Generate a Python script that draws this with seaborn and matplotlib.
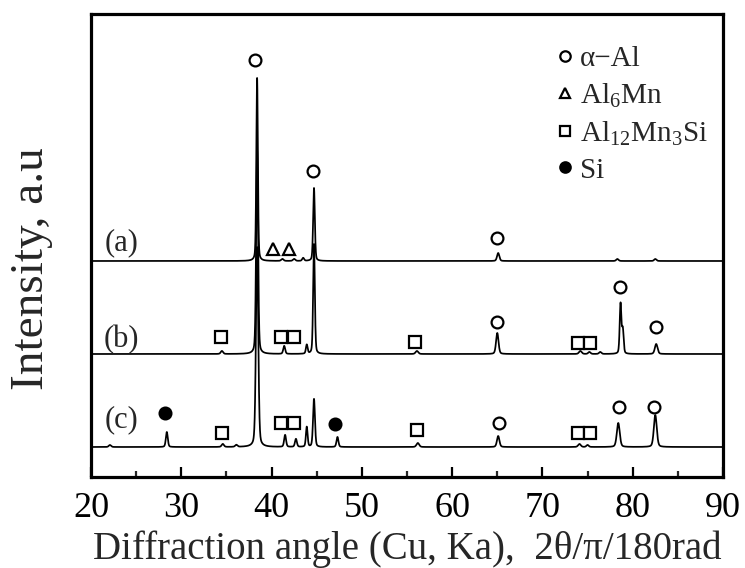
import numpy as np
import pandas as pd
import seaborn as sns
import matplotlib.pyplot as plt
from matplotlib.lines import Line2D
from matplotlib.ticker import MultipleLocator

# ---- peak lists for each XRD pattern: 2-theta (deg), intensity above baseline, FWHM (deg)
a_pos = [38.40, 41.20, 42.50, 43.50, 44.70, 65.10, 78.30, 82.50]
a_int = [183, 2, 2, 3, 73, 8, 2, 2]
a_fwhm = [0.20, 0.30, 0.30, 0.25, 0.22, 0.30, 0.30, 0.30]

b_pos = [34.50, 38.40, 41.40, 43.90, 44.70, 56.10, 65.00, 74.20, 75.20, 76.40, 78.65, 78.90, 82.60]
b_int = [3, 204, 8, 9, 110, 3, 21, 3, 2, 2, 50, 24, 10]
b_fwhm = [0.30, 0.25, 0.25, 0.22, 0.22, 0.35, 0.32, 0.35, 0.30, 0.30, 0.22, 0.22, 0.35]

c_pos = [22.10, 28.40, 34.60, 36.10, 38.40, 41.50, 42.70, 43.90, 44.70, 47.30, 56.20, 65.10,
         74.10, 75.00, 78.40, 82.50]
c_int = [2, 15, 3, 2, 200, 12, 8, 20, 48, 10, 4, 11, 3, 2, 24, 32]
c_fwhm = [0.30, 0.25, 0.30, 0.30, 0.30, 0.25, 0.25, 0.22, 0.25, 0.25, 0.35, 0.32,
          0.35, 0.30, 0.38, 0.38]

sample_names = ["(a)", "(b)", "(c)"]
baselines = [216, 123, 30]

# ---- phase identification marks: (phase, 2-theta, height of mark above its pattern baseline)
a_marks = [("alpha", 38.2, 201), ("alpha", 44.6, 90), ("al6mn", 40.2, 12), ("al6mn", 41.9, 12),
           ("alpha", 65.0, 23)]
b_marks = [("al12", 34.4, 17), ("al12", 41.1, 17), ("al12", 42.5, 17), ("al12", 55.9, 12),
           ("alpha", 65.0, 32), ("al12", 73.9, 11), ("al12", 75.3, 11), ("alpha", 78.6, 67),
           ("alpha", 82.6, 27)]
c_marks = [("si", 28.2, 34), ("al12", 34.5, 14), ("al12", 41.1, 24), ("al12", 42.5, 24),
           ("si", 47.0, 23), ("al12", 56.1, 17), ("alpha", 65.2, 24), ("al12", 73.9, 14),
           ("al12", 75.3, 14), ("alpha", 78.5, 40), ("alpha", 82.4, 40)]

phase_labels = {
    "alpha": "\u03b1\u2212Al",
    "al6mn": r"Al$_{\mathrm{6}}$Mn",
    "al12": r"Al$_{\mathrm{12}}$Mn$_{\mathrm{3}}$Si",
    "si": "Si",
}
phase_order = ["alpha", "al6mn", "al12", "si"]
phase_style = {
    "alpha": dict(marker="o", mfc="white"),
    "al6mn": dict(marker="^", mfc="white"),
    "al12": dict(marker="s", mfc="white"),
    "si": dict(marker="o", mfc="black"),
}

x_ticks = [20, 30, 40, 50, 60, 70, 80, 90]


def pattern(tt, pos, inten, fwhm, base):
    """Pseudo-Voigt profile built from a peak list."""
    y = np.full_like(tt, float(base))
    for p, h, w in zip(pos, inten, fwhm):
        g = np.exp(-4 * np.log(2) * ((tt - p) / w) ** 2)
        lz = 1.0 / (1.0 + 4 * ((tt - p) / w) ** 2)
        y += h * (0.7 * g + 0.3 * lz)
    return y


sns.set_theme(style="ticks")
plt.rcParams["font.family"] = ["Liberation Serif", "DejaVu Serif"]
plt.rcParams["mathtext.fontset"] = "custom"
plt.rcParams["mathtext.rm"] = "Liberation Serif"
plt.rcParams["mathtext.it"] = "Liberation Serif:italic"

fig = plt.figure(figsize=(7.45, 5.68), dpi=100)
ax = fig.add_axes([0.1221, 0.1602, 0.8484, 0.8152])

tt = np.arange(20.0, 90.0001, 0.01)
frames = []
for name, pos, inten, fwhm, base in zip(
        sample_names, [a_pos, b_pos, c_pos], [a_int, b_int, c_int],
        [a_fwhm, b_fwhm, c_fwhm], baselines):
    frames.append(pd.DataFrame({"two_theta": tt,
                                "intensity": pattern(tt, pos, inten, fwhm, base),
                                "sample": name}))
df = pd.concat(frames, ignore_index=True)

sns.lineplot(data=df, x="two_theta", y="intensity", units="sample", estimator=None,
             color="black", linewidth=1.25, ax=ax, legend=False, sort=False)

# phase marks above the peaks
for marks, base in zip([a_marks, b_marks, c_marks], baselines):
    for phase, x, h in marks:
        st = phase_style[phase]
        ax.plot(x, base + h, linestyle="none", marker=st["marker"], markersize=8.5,
                markerfacecolor=st["mfc"], markeredgecolor="black", markeredgewidth=1.6)

# sample labels
for name, base, dy in zip(sample_names, baselines, [18, 14, 27]):
    ax.text(23.4, base + dy, name, fontsize=22, ha="center", va="center")

# legend
handles = []
for ph in phase_order:
    st = phase_style[ph]
    handles.append(Line2D([], [], linestyle="none", marker=st["marker"], markersize=7.5,
                          markerfacecolor=st["mfc"], markeredgecolor="black",
                          markeredgewidth=1.6, label=phase_labels[ph]))
ax.legend(handles=handles, loc="upper left", bbox_to_anchor=(0.731, 0.932), frameon=False,
          fontsize=21, handlelength=0.8, handletextpad=0.12, labelspacing=0.33,
          borderpad=0, borderaxespad=0)

ax.set_xlim(20, 90)
ax.set_ylim(0, 463)
ax.set_xticks(x_ticks)
ax.set_xticklabels([str(t) for t in x_ticks])
ax.xaxis.set_minor_locator(MultipleLocator(5))
ax.set_yticks([])
ax.tick_params(axis="x", which="major", direction="in", length=7, width=1.6,
               labelsize=26, pad=11, colors="black")
ax.tick_params(axis="x", which="minor", direction="in", length=4, width=1.6)
for sp in ax.spines.values():
    sp.set_linewidth(2.3)
    sp.set_color("black")

ax.set_xlabel("Diffraction angle (Cu, Ka),  2\u03b8/\u03c0/180rad", fontsize=28, labelpad=4)
ax.set_ylabel("Intensity, a.u", fontsize=34)
ax.yaxis.set_label_coords(-0.06, 0.45)

fig.savefig("out.png", dpi=100, facecolor="white")
